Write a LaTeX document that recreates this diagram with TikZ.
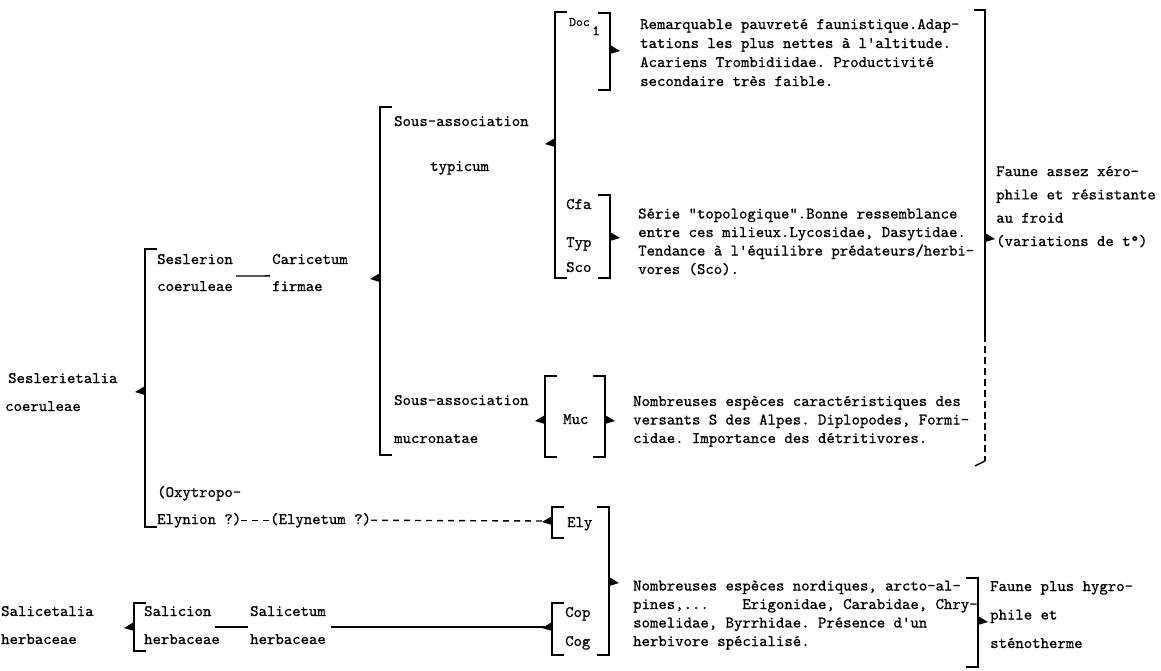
\documentclass[tikz,border=0pt]{standalone}
\usepackage{fontspec}
\setmonofont{lmmono10-regular.otf}[FakeBold=0.8]
\usetikzlibrary{positioning}

% bracket with ticks to the right, pointer to the left
\newcommand{\brL}[4]{%
  \draw[brk] (#1+12,#2) -- (#1,#2) -- (#1,#3) -- (#1+12,#3);
  \fill (#1,#4-5) -- (#1-10,#4+1) -- (#1,#4+4) -- cycle;}
% bracket with ticks to the left, pointer to the right
\newcommand{\brR}[4]{%
  \draw[brk] (#1-12,#2) -- (#1,#2) -- (#1,#3) -- (#1-12,#3);
  \fill (#1,#4-5) -- (#1+10,#4+1) -- (#1,#4+4) -- cycle;}

\begin{document}
\begin{tikzpicture}[x=1pt,y=-1pt,
  txt/.style={anchor=base west,inner sep=0pt,align=left,
    font=\ttfamily\frenchspacing\fontsize{16}{18.5}\selectfont},
  wide/.style={txt,font=\ttfamily\frenchspacing\fontsize{16}{23.3}\selectfont},
  brk/.style={line width=1.5pt},
  link/.style={line width=1.4pt}]
\useasboundingbox (0,0) rectangle (1161,670);

% order (base of a block = its last line)
\node[txt] (ord1) at (8,383) {Seslerietalia};
\node[txt] (ord2) at (5,411) {coeruleae};
\brL{145}{249}{527}{391}

% alliances and associations
\node[txt] (all1) at (157,264) {Seslerion};
\node[txt] (all2) at (157,291) {coeruleae};
\node[txt] (ass1) at (272,264) {Caricetum};
\node[txt] (ass2) at (272,291) {firmae};
\draw[link] ([xshift=3pt,yshift=5pt]all2.north east) -- ([xshift=-2pt,yshift=5pt]ass2.north west);
\brL{380}{107}{455}{278}

\node[txt] (sub1) at (394,126) {Sous-association};
\node[txt] (sub1b) at (430,171) {typicum};
\node[txt] (sub2) at (394,405) {Sous-association};
\node[txt] (sub2b) at (394,443) {mucronatae};

% typicum stations
\brL{555}{12}{278}{143}
\node[txt] (doc) at (569,26) {{\fontsize{13}{13}\selectfont Doc}\,\raisebox{-9pt}{\fontsize{14}{14}\selectfont 1}};
\brR{610}{13}{90}{50}
\node[txt,font=\ttfamily\frenchspacing\fontsize{16}{19}\selectfont] (txdoc) at (640,86) {Remarquable pauvreté faunistique.Adap-\\
tations les plus nettes à l'altitude.\\
Acariens Trombidiidae. Productivité\\
secondaire très faible.};

\node[txt] (cfa) at (566,209) {Cfa};
\node[txt] (typ) at (566,247) {Typ};
\node[txt] (sco) at (566,272) {Sco};
\brR{610}{195}{278}{237}
\node[txt] (txtyp) at (638,274) {Série "topologique".Bonne ressemblance\\
entre ces milieux.Lycosidae, Dasytidae.\\
Tendance à l'équilibre prédateurs/herbi-\\
vores (Sco).};

% mucronatae station
\brL{545}{376}{457}{420}
\node[txt] (muc) at (563,424) {Muc};
\brR{605}{376}{457}{420}
\node[txt] (txmuc) at (633,443) {Nombreuses espèces caractéristiques des\\
versants S des Alpes. Diplopodes, Formi-\\
cidae. Importance des détritivores.};

% fauna of the Seslerietalia
\draw[brk] (974,10) -- (985,10) -- (985,335);
\draw[brk,dash pattern=on 7pt off 4pt] (985,335) -- (985,461);
\draw[brk] (985,461) -- (975,466);
\fill (985,233) -- (995,239) -- (985,242) -- cycle;
\node[wide] (fxero) at (996,246) {Faune assez xéro-\\
phile et résistante\\
au froid\\
(variations de t°)};

% Elynion
\node[txt] (ely1) at (157,497) {(Oxytropo-};
\node[txt] (ely2) at (157,524) {Elynion ?)};
\node[txt] (elt) at (270,524) {(Elynetum ?)};
\coordinate (pEly) at (545,521);
\draw[link,dash pattern=on 6pt off 5pt] (ely2.east) -- (elt.west);
\draw[link,dash pattern=on 6pt off 5pt] (elt.east) -- (pEly);
\brL{552}{507}{538}{521}
\node[txt] (ely) at (567,527) {Ely};

% Salicetalia
\node[txt] (sal1) at (1,616) {Salicetalia};
\node[txt] (sal2) at (1,644) {herbaceae};
\brL{134}{603}{651}{627}
\node[txt] (sln1) at (144,616) {Salicion};
\node[txt] (sln2) at (144,644) {herbaceae};
\node[txt] (slt1) at (250,616) {Salicetum};
\node[txt] (slt2) at (250,644) {herbaceae};
\draw[link] ([xshift=3pt,yshift=-11pt]sln1.base east) -- ([xshift=-2pt,yshift=-11pt]slt1.base west);
\coordinate (pCop) at (545,627);
\draw[link] ([xshift=5pt,yshift=-11pt]slt1.base east) -- (pCop);
\brL{552}{603}{655}{627}
\node[txt] (cop) at (565,617) {Cop};
\node[txt] (cog) at (565,646) {Cog};
\brR{609}{507}{655}{582}
\node[txt] (txnord) at (633,646) {Nombreuses espèces nordiques, arcto-al-\\
pines,...~~~~Erigonidae, Carabidae, Chry-\\
somelidae, Byrrhidae. Présence d'un\\
herbivore spécialisé.};
\brR{978}{578}{667}{621}
\node[txt,font=\ttfamily\frenchspacing\fontsize{16}{28.5}\selectfont] (fhygro) at (990,648) {Faune plus hygro-\\
phile et\\
sténotherme};
\end{tikzpicture}
\end{document}
